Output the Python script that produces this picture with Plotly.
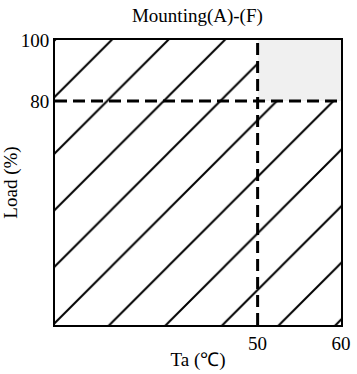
import plotly.graph_objects as go

# derating region
ta_min = 25.7
ta_limit = 50
ta_max = 60
load_min = 6.6
load_limit = 80
load_max = 100

x_ticks = [50, 60]
y_ticks = [80, 100]

hatch_x = [ta_min, ta_max, ta_max, ta_limit, ta_limit, ta_min, ta_min]
hatch_y = [load_min, load_min, load_limit, load_limit, load_max, load_max, load_min]

font = "Liberation Serif"

fig = go.Figure()

# usable area, hatched
fig.add_trace(go.Scatter(
    x=hatch_x, y=hatch_y,
    mode="lines", line=dict(width=0),
    fill="toself", fillcolor="white",
    fillpattern=dict(shape="/", size=40, solidity=0.05, fgopacity=1,
                     fgcolor="black", bgcolor="white"),
    hoverinfo="skip", showlegend=False,
))

# shaded corner
fig.add_shape(type="rect", x0=ta_limit, x1=ta_max, y0=load_limit, y1=load_max,
              fillcolor="#f0f0f0", line=dict(width=0), layer="below")

# limit lines
fig.add_shape(type="line", x0=ta_limit, x1=ta_limit, y0=load_min, y1=load_max,
              line=dict(color="black", width=3, dash="12px,6px"))
fig.add_shape(type="line", x0=ta_min, x1=ta_max, y0=load_limit, y1=load_limit,
              line=dict(color="black", width=3, dash="12px,6px"))

fig.update_layout(
    width=357, height=374,
    margin=dict(l=55, r=16, t=40, b=49, autoexpand=False),
    paper_bgcolor="white", plot_bgcolor="white",
    font=dict(family=font, size=19, color="black"),
    title=dict(text="Mounting(A)-(F)", x=0.553, xanchor="center",
               y=0.96, yanchor="middle", font=dict(size=19)),
)
fig.update_xaxes(
    range=[ta_min, ta_max], tickvals=x_ticks, ticks="", showgrid=False,
    zeroline=False, showline=True, mirror=True, linecolor="black", linewidth=2,
    automargin=False,
    title=dict(text="Ta (℃)", standoff=0, font=dict(size=19)),
    tickfont=dict(size=19),
)
fig.update_yaxes(
    range=[load_min, load_max], tickvals=y_ticks, ticks="", showgrid=False,
    zeroline=False, showline=True, mirror=True, linecolor="black", linewidth=2,
    automargin=False,
    title=dict(text="Load (%)", standoff=0, font=dict(size=19)),
    tickfont=dict(size=19),
)

fig.write_html("out.html", config={"displayModeBar": False},
               post_script="document.body.style.margin='0';")
